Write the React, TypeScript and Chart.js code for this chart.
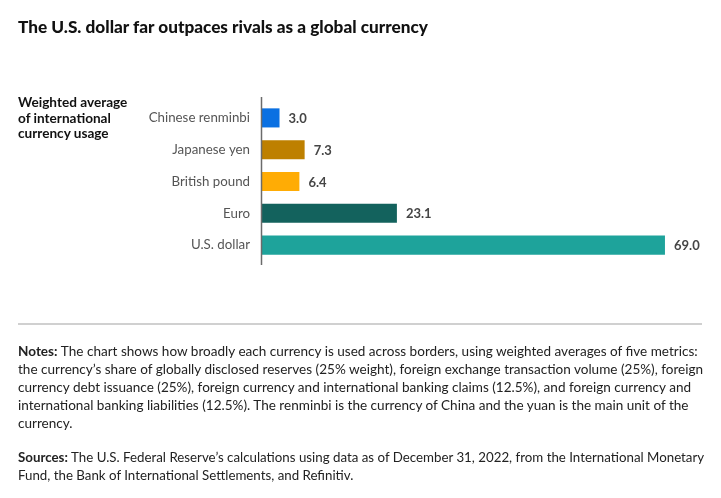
import React, { useEffect, useRef } from "react";
import { Chart, registerables } from "chart.js";

Chart.register(...registerables);

const categories = ["Chinese renminbi", "Japanese yen", "British pound", "Euro", "U.S. dollar"];
const usage = [3.0, 7.3, 6.4, 23.1, 69.0];
const barColors = ["#0A70E2", "#BE8000", "#FFAC05", "#13625D", "#1EA39B"];

const title = "The U.S. dollar far outpaces rivals as a global currency";
const axisLabelLines = ["Weighted average", "of international", "currency usage"];
const notesLines = [
  "The chart shows how broadly each currency is used across borders, using weighted averages of five metrics:",
  "the currency\u2019s share of globally disclosed reserves (25% weight), foreign exchange transaction volume (25%), foreign",
  "currency debt issuance (25%), foreign currency and international banking claims (12.5%), and foreign currency and",
  "international banking liabilities (12.5%). The renminbi is the currency of China and the yuan is the main unit of the",
  "currency.",
];
const sourcesLines = [
  "The U.S. Federal Reserve\u2019s calculations using data as of December 31, 2022, from the International Monetary",
  "Fund, the Bank of International Settlements, and Refinitiv.",
];

const FONT = "Lato, 'Open Sans', sans-serif";

export default function App() {
  const ref = useRef<HTMLCanvasElement | null>(null);

  useEffect(() => {
    document.body.style.margin = "0";
    const canvas = ref.current;
    if (!canvas) return;

    const valueLabels = {
      id: "valueLabels",
      afterDatasetsDraw(chart: any) {
        const ctx = chart.ctx;
        const meta = chart.getDatasetMeta(0);
        ctx.save();
        ctx.font = `bold 13px ${FONT}`;
        ctx.fillStyle = "#454545";
        ctx.textAlign = "left";
        ctx.textBaseline = "middle";
        meta.data.forEach((bar: any, i: number) => {
          ctx.fillText(usage[i].toFixed(1), bar.x + 9, bar.y + 1);
        });
        ctx.restore();
      },
    };

    const axisLine = {
      id: "axisLine",
      afterDraw(chart: any) {
        const { ctx, chartArea } = chart;
        ctx.save();
        ctx.strokeStyle = "#6b6b6b";
        ctx.lineWidth = 1.5;
        ctx.beginPath();
        ctx.moveTo(chartArea.left - 0.5, chartArea.top - 5);
        ctx.lineTo(chartArea.left - 0.5, chartArea.bottom + 4);
        ctx.stroke();
        ctx.restore();
      },
    };

    const chart = new Chart(canvas, {
      type: "bar",
      data: {
        labels: categories,
        datasets: [
          {
            data: usage,
            backgroundColor: barColors,
            borderWidth: 0,
            barPercentage: 0.6,
            categoryPercentage: 1,
          },
        ],
      },
      options: {
        indexAxis: "y",
        animation: false,
        responsive: false,
        maintainAspectRatio: false,
        layout: { padding: { top: 102, bottom: 237, right: 21, left: 0 } },
        plugins: {
          legend: { display: false },
          tooltip: { enabled: false },
          title: { display: false },
        },
        scales: {
          x: {
            display: false,
            min: 0,
            max: 75,
            grid: { display: false },
          },
          y: {
            grid: { display: false, drawTicks: false },
            border: { display: false },
            ticks: {
              color: "#555555",
              font: { family: FONT, size: 13.3 },
              padding: 12,
            },
            afterFit(scale: any) {
              scale.width = 262;
            },
          },
        },
      },
      plugins: [valueLabels, axisLine],
    });

    return () => chart.destroy();
  }, []);

  const textStyle: React.CSSProperties = {
    position: "absolute",
    left: 18,
    fontFamily: FONT,
    fontSize: 13.55,
    color: "#222",
    lineHeight: "18px",
    whiteSpace: "nowrap",
  };

  return (
    <div style={{ position: "relative", width: 721, height: 498, background: "#fff", overflow: "hidden" }}>
      <canvas ref={ref} width={721} height={498} style={{ position: "absolute", left: 0, top: 0, width: 721, height: 498 }} />
      <div
        style={{
          position: "absolute",
          left: 18,
          top: 16,
          fontFamily: FONT,
          fontWeight: 900,
          fontSize: 17.2,
          lineHeight: "22px",
          color: "#111",
          whiteSpace: "nowrap",
        }}
      >
        {title}
      </div>
      <div
        style={{
          position: "absolute",
          left: 18,
          top: 95,
          fontFamily: FONT,
          fontWeight: 700,
          fontSize: 13.6,
          lineHeight: "15.7px",
          color: "#111",
          whiteSpace: "nowrap",
        }}
      >
        {axisLabelLines.map((l, i) => (
          <div key={i}>{l}</div>
        ))}
      </div>
      <div style={{ position: "absolute", left: 18, top: 323, width: 684, height: 2, background: "#d0d0d0" }} />
      <div style={{ ...textStyle, top: 342 }}>
        {notesLines.map((l, i) => (
          <div key={i}>
            {i === 0 ? <b>Notes: </b> : null}
            {l}
          </div>
        ))}
      </div>
      <div style={{ ...textStyle, top: 448, fontSize: 13.3 }}>
        {sourcesLines.map((l, i) => (
          <div key={i}>
            {i === 0 ? <b>Sources: </b> : null}
            {l}
          </div>
        ))}
      </div>
    </div>
  );
}
